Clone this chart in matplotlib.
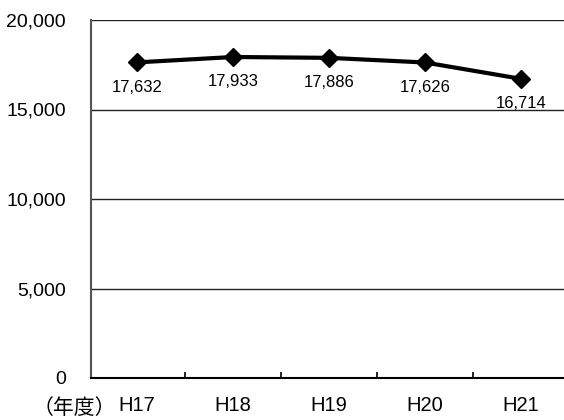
import matplotlib
matplotlib.use('Agg')
import matplotlib.pyplot as plt

# data
years = ['H17', 'H18', 'H19', 'H20', 'H21']
values = [17632, 17933, 17886, 17626, 16714]
value_labels = ['17,632', '17,933', '17,886', '17,626', '16,714']
y_ticks = [0, 5000, 10000, 15000, 20000]
y_tick_labels = ['0', '5,000', '10,000', '15,000', '20,000']

plt.rcParams['font.family'] = ['Liberation Sans', 'Noto Sans CJK JP', 'DejaVu Sans']

fig = plt.figure(figsize=(5.64, 4.2), dpi=100)
ax = fig.add_axes([91 / 564, 42 / 420, 473 / 564, 358 / 420])

x = list(range(len(years)))
ax.plot(x, values, color='black', linewidth=3, marker='D', markersize=9,
        markerfacecolor='black', markeredgecolor='black', zorder=3)

# data labels below each marker
for xi, v, lab in zip(x, values, value_labels):
    ax.annotate(lab, (xi, v), xytext=(0, -18), textcoords='offset points',
                ha='center', va='center', fontsize=12, color='black')

ax.set_xlim(-0.479, 4.448)
ax.set_ylim(0, 20000)
ax.set_yticks(y_ticks)
ax.set_yticklabels(y_tick_labels, fontsize=14)
ax.set_xticks(x)
ax.set_xticklabels(years, fontsize=14.5)
ax.tick_params(axis='y', length=0, pad=18)
ax.tick_params(axis='x', length=0, pad=13)

# small ticks between categories, pointing up
ax.set_xticks([0.5, 1.5, 2.5, 3.5], minor=True)
ax.tick_params(axis='x', which='minor', direction='in', length=4, width=1.2, color='black')

for yv in [5000, 10000, 15000, 20000]:
    ax.axhline(yv, color='#222222', linewidth=1, zorder=1)

ax.spines['top'].set_visible(False)
ax.spines['right'].set_visible(False)
ax.spines['left'].set_color('#555555')
ax.spines['left'].set_linewidth(1.5)
ax.spines['bottom'].set_color('black')
ax.spines['bottom'].set_linewidth(1.5)

fig.text(74 / 564, 1 - 408 / 420, '（年度）', ha='center', va='center', fontsize=15,
         family=['Noto Sans CJK JP', 'DejaVu Sans'])

fig.savefig('out.png', dpi=100)
